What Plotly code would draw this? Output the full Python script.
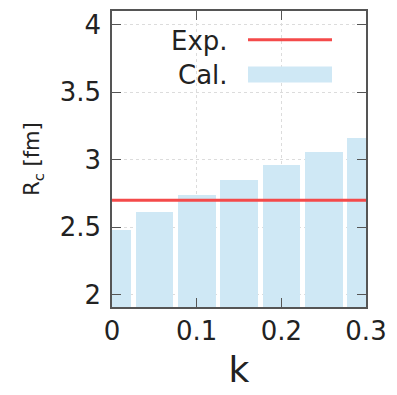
import plotly.graph_objects as go

# Charge radius vs. k
k_values = [0.0, 0.05, 0.10, 0.15, 0.20, 0.25, 0.30]
rc_calc = [2.48, 2.61, 2.74, 2.85, 2.96, 3.06, 3.16]
rc_exp = 2.70
x_ticks = [0, 0.1, 0.2, 0.3]
x_tick_text = ["0", "0.1", "0.2", "0.3"]
y_ticks = [2, 2.5, 3, 3.5, 4]
y_tick_text = ["2", "2.5", "3", "3.5", "4"]

BAR_COLOR = "#cfe8f5"
LINE_COLOR = "#f44a4a"
FONT = "DejaVu Sans"

fig = go.Figure()
fig.add_trace(go.Bar(
    x=k_values, y=rc_calc, width=0.0445,
    marker=dict(color=BAR_COLOR, line=dict(width=0)),
    showlegend=False,
))
fig.add_trace(go.Scatter(
    x=[x_ticks[0], x_ticks[-1]], y=[rc_exp, rc_exp], mode="lines",
    line=dict(color=LINE_COLOR, width=3), showlegend=False,
))

axis_common = dict(
    showline=True, linecolor="#555", linewidth=1.5, mirror="ticks",
    ticks="inside", ticklen=9, tickcolor="#555", tickwidth=1.2,
    showgrid=True, gridcolor="#dcdcdc", griddash="dot", gridwidth=1,
    zeroline=False, tickfont=dict(family=FONT, size=26, color="#222"),
)

fig.update_layout(
    width=397, height=395,
    margin=dict(l=112, r=31, t=9, b=88),
    paper_bgcolor="white", plot_bgcolor="white",
    bargap=0,
    xaxis=dict(range=[0, 0.3], tickvals=x_ticks, ticktext=x_tick_text,
               title=dict(text="k", font=dict(family=FONT, size=36, color="#222"), standoff=12),
               **axis_common),
    yaxis=dict(range=[1.91, 4.1], tickvals=y_ticks, ticktext=y_tick_text,
               ticklabelstandoff=4,
               title=dict(text="R<sub>c</sub> [fm]", font=dict(family=FONT, size=21, color="#222"), standoff=14),
               **axis_common),
)

# Key: labels to the left of their samples
fig.add_annotation(xref="paper", yref="paper", x=(230 - 112) / 254, y=(307 - 39) / 298,
                   text="Exp.", showarrow=False, xanchor="right", yanchor="middle",
                   font=dict(family=FONT, size=26, color="#222"))
fig.add_annotation(xref="paper", yref="paper", x=(230 - 112) / 254, y=(307 - 73) / 298,
                   text="Cal.", showarrow=False, xanchor="right", yanchor="middle",
                   font=dict(family=FONT, size=26, color="#222"))
fig.add_shape(type="line", xref="paper", yref="paper",
              x0=(248 - 112) / 254, x1=(332 - 112) / 254,
              y0=(307 - 38) / 298, y1=(307 - 38) / 298,
              line=dict(color=LINE_COLOR, width=3))
fig.add_shape(type="rect", xref="paper", yref="paper",
              x0=(248 - 112) / 254, x1=(332 - 112) / 254,
              y0=(307 - 81) / 298, y1=(307 - 65) / 298,
              fillcolor=BAR_COLOR, line=dict(width=0))

fig.write_html("out.html")
